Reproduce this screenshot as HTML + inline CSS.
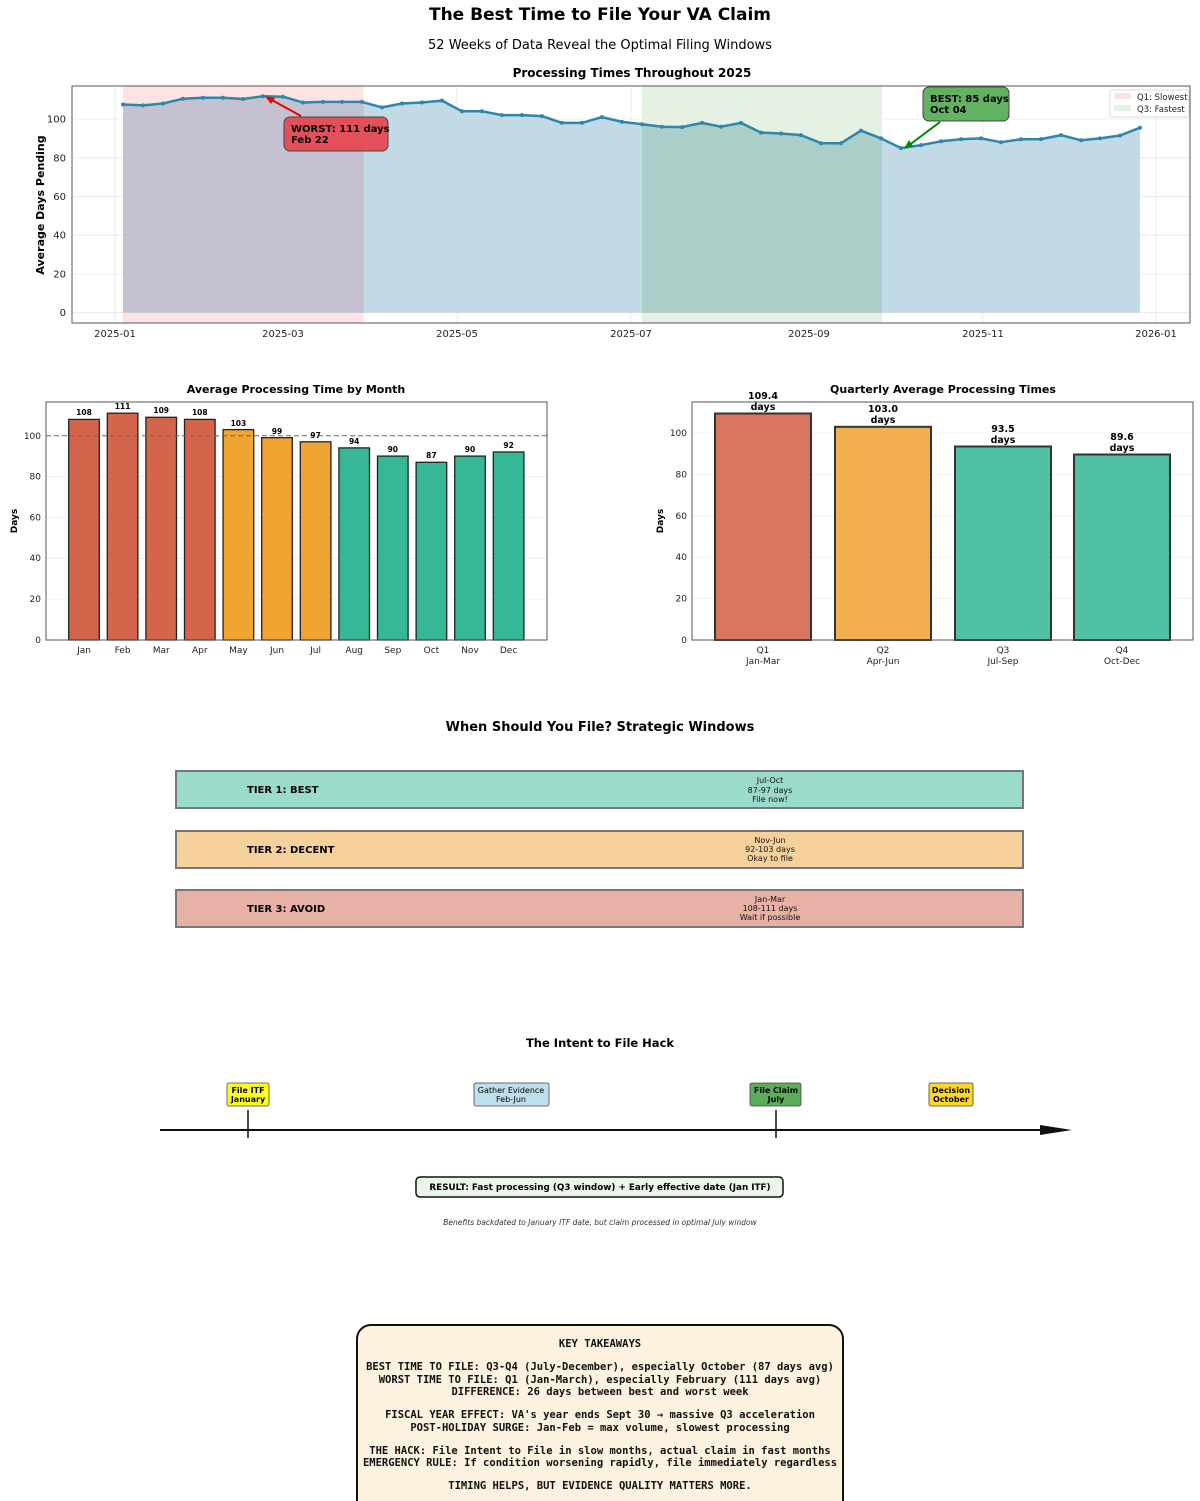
<!DOCTYPE html>
<html><head><meta charset="utf-8"><style>
html,body{margin:0;padding:0;background:#fff}
svg{display:block}
text{font-family:"DejaVu Sans","Liberation Sans",sans-serif}
.m text{font-family:"DejaVu Sans Mono","Liberation Mono",monospace;font-weight:bold;font-size:10.5px}
</style></head><body>
<svg width="1200" height="1501" viewBox="0 0 1200 1501" xmlns="http://www.w3.org/2000/svg">
<defs>
<clipPath id="cq1"><rect x="123" y="80" width="240.6" height="240"/></clipPath>
<clipPath id="cq3"><rect x="642" y="80" width="240" height="240"/></clipPath>
</defs>
<text x="600" y="20" text-anchor="middle" font-size="17" font-weight="bold">The Best Time to File Your VA Claim</text>
<text x="600" y="49" text-anchor="middle" font-size="13">52 Weeks of Data Reveal the Optimal Filing Windows</text>

<!-- TOP CHART -->
<text x="632" y="77" text-anchor="middle" font-size="12" font-weight="bold">Processing Times Throughout 2025</text>
<g stroke="#e6e6e6" stroke-width="0.8">
<line x1="72" x2="1190" y1="312.7" y2="312.7"/><line x1="72" x2="1190" y1="274" y2="274"/><line x1="72" x2="1190" y1="235.2" y2="235.2"/><line x1="72" x2="1190" y1="196.5" y2="196.5"/><line x1="72" x2="1190" y1="157.8" y2="157.8"/><line x1="72" x2="1190" y1="119" y2="119"/>
<line x1="115" x2="115" y1="86" y2="323"/><line x1="283" x2="283" y1="86" y2="323"/><line x1="457" x2="457" y1="86" y2="323"/><line x1="631" x2="631" y1="86" y2="323"/><line x1="809" x2="809" y1="86" y2="323"/><line x1="983" x2="983" y1="86" y2="323"/><line x1="1156" x2="1156" y1="86" y2="323"/>
</g>
<rect x="123" y="86" width="240.6" height="237" fill="#fde3e3"/>
<rect x="642" y="86" width="240" height="237" fill="#e5f1e3"/>
<polygon fill="#c1dae5" points="123,312.7 123,104.5 143,105.4 163,103.5 183,98.7 203,97.7 223,97.7 243,99 263,96.3 283,96.7 303,102.5 323,101.9 342,101.9 362,101.9 382,107.4 402,103.5 422,102.5 442,100.6 462,111.3 482,111.3 502,115.1 522,115.1 542,116.1 562,122.9 582,122.9 602,117.1 622,121.9 642,124.2 662,126.7 682,127.1 702,122.9 721,126.7 741,122.9 761,132.6 781,133.5 801,135.1 821,143.2 841,143.2 861,130.6 881,138.4 901,148.1 921,145.1 941,141.3 961,139.3 981,138.4 1001,142.2 1021,139.3 1041,139.1 1061,135.1 1081,140.3 1100,138.4 1120,135.5 1140,127.7 1140,312.7"/>
<polygon clip-path="url(#cq1)" fill="#c4c2d0" points="123,312.7 123,104.5 143,105.4 163,103.5 183,98.7 203,97.7 223,97.7 243,99 263,96.3 283,96.7 303,102.5 323,101.9 342,101.9 362,101.9 382,107.4 382,312.7"/>
<polygon clip-path="url(#cq3)" fill="#abcec8" points="622,312.7 622,121.9 642,124.2 662,126.7 682,127.1 702,122.9 721,126.7 741,122.9 761,132.6 781,133.5 801,135.1 821,143.2 841,143.2 861,130.6 881,138.4 901,148.1 901,312.7"/>
<polyline fill="none" stroke="#2e86ab" stroke-width="2.5" stroke-linejoin="round" points="123,104.5 143,105.4 163,103.5 183,98.7 203,97.7 223,97.7 243,99 263,96.3 283,96.7 303,102.5 323,101.9 342,101.9 362,101.9 382,107.4 402,103.5 422,102.5 442,100.6 462,111.3 482,111.3 502,115.1 522,115.1 542,116.1 562,122.9 582,122.9 602,117.1 622,121.9 642,124.2 662,126.7 682,127.1 702,122.9 721,126.7 741,122.9 761,132.6 781,133.5 801,135.1 821,143.2 841,143.2 861,130.6 881,138.4 901,148.1 921,145.1 941,141.3 961,139.3 981,138.4 1001,142.2 1021,139.3 1041,139.1 1061,135.1 1081,140.3 1100,138.4 1120,135.5 1140,127.7"/>
<g fill="#2e86ab">
<circle cx="123" cy="104.5" r="2"/><circle cx="143" cy="105.4" r="2"/><circle cx="163" cy="103.5" r="2"/><circle cx="183" cy="98.7" r="2"/><circle cx="203" cy="97.7" r="2"/><circle cx="223" cy="97.7" r="2"/><circle cx="243" cy="99" r="2"/><circle cx="263" cy="96.3" r="2"/><circle cx="283" cy="96.7" r="2"/><circle cx="303" cy="102.5" r="2"/><circle cx="323" cy="101.9" r="2"/><circle cx="342" cy="101.9" r="2"/><circle cx="362" cy="101.9" r="2"/><circle cx="382" cy="107.4" r="2"/><circle cx="402" cy="103.5" r="2"/><circle cx="422" cy="102.5" r="2"/><circle cx="442" cy="100.6" r="2"/><circle cx="462" cy="111.3" r="2"/><circle cx="482" cy="111.3" r="2"/><circle cx="502" cy="115.1" r="2"/><circle cx="522" cy="115.1" r="2"/><circle cx="542" cy="116.1" r="2"/><circle cx="562" cy="122.9" r="2"/><circle cx="582" cy="122.9" r="2"/><circle cx="602" cy="117.1" r="2"/><circle cx="622" cy="121.9" r="2"/><circle cx="642" cy="124.2" r="2"/><circle cx="662" cy="126.7" r="2"/><circle cx="682" cy="127.1" r="2"/><circle cx="702" cy="122.9" r="2"/><circle cx="721" cy="126.7" r="2"/><circle cx="741" cy="122.9" r="2"/><circle cx="761" cy="132.6" r="2"/><circle cx="781" cy="133.5" r="2"/><circle cx="801" cy="135.1" r="2"/><circle cx="821" cy="143.2" r="2"/><circle cx="841" cy="143.2" r="2"/><circle cx="861" cy="130.6" r="2"/><circle cx="881" cy="138.4" r="2"/><circle cx="901" cy="148.1" r="2"/><circle cx="921" cy="145.1" r="2"/><circle cx="941" cy="141.3" r="2"/><circle cx="961" cy="139.3" r="2"/><circle cx="981" cy="138.4" r="2"/><circle cx="1001" cy="142.2" r="2"/><circle cx="1021" cy="139.3" r="2"/><circle cx="1041" cy="139.1" r="2"/><circle cx="1061" cy="135.1" r="2"/><circle cx="1081" cy="140.3" r="2"/><circle cx="1100" cy="138.4" r="2"/><circle cx="1120" cy="135.5" r="2"/><circle cx="1140" cy="127.7" r="2"/>
</g>
<rect x="72" y="86" width="1118" height="237" fill="none" stroke="#555" stroke-width="1"/>
<g font-size="10" fill="#222" text-anchor="end">
<text x="66" y="316">0</text><text x="66" y="277.5">20</text><text x="66" y="238.7">40</text><text x="66" y="200">60</text><text x="66" y="161.3">80</text><text x="66" y="122.5">100</text>
</g>
<g font-size="10" fill="#222" text-anchor="middle">
<text x="115" y="337">2025-01</text><text x="283" y="337">2025-03</text><text x="457" y="337">2025-05</text><text x="631" y="337">2025-07</text><text x="809" y="337">2025-09</text><text x="983" y="337">2025-11</text><text x="1156" y="337">2026-01</text>
</g>
<text transform="translate(44,205) rotate(-90)" text-anchor="middle" font-size="11" font-weight="bold">Average Days Pending</text>
<line x1="301" y1="116" x2="270" y2="99" stroke="#e00" stroke-width="2"/>
<polygon points="265,96 275,98 271,104" fill="#e00"/>
<rect x="284" y="117" width="104" height="34" rx="6" fill="#e6474f" fill-opacity="0.92" stroke="#444"/>
<text x="291" y="132" font-size="10" font-weight="bold">WORST: 111 days</text>
<text x="291" y="143" font-size="10" font-weight="bold">Feb 22</text>
<line x1="940" y1="122" x2="908" y2="146" stroke="#080" stroke-width="2"/>
<polygon points="904,149 909,140 913,146" fill="#080"/>
<rect x="923" y="87" width="86" height="34" rx="6" fill="#5aae5a" fill-opacity="0.95" stroke="#444"/>
<text x="930" y="102" font-size="10" font-weight="bold">BEST: 85 days</text>
<text x="930" y="113" font-size="10" font-weight="bold">Oct 04</text>
<rect x="1110" y="90" width="79" height="27" rx="2" fill="#fff" fill-opacity="0.85" stroke="#ddd"/>
<rect x="1114" y="93" width="17" height="6" fill="#fde3e3"/>
<rect x="1114" y="105" width="17" height="6" fill="#e5f1e3"/>
<text x="1137" y="100" font-size="8.5" fill="#222">Q1: Slowest</text>
<text x="1137" y="112" font-size="8.5" fill="#222">Q3: Fastest</text>

<!-- MONTH CHART -->
<text x="296" y="393" text-anchor="middle" font-size="11" font-weight="bold">Average Processing Time by Month</text>
<g stroke="#ececec" stroke-width="0.8">
<line x1="46" x2="547" y1="599.1" y2="599.1"/><line x1="46" x2="547" y1="558.3" y2="558.3"/><line x1="46" x2="547" y1="517.4" y2="517.4"/><line x1="46" x2="547" y1="476.6" y2="476.6"/>
</g>
<g stroke="#222" stroke-width="1.3">
<rect x="68.7" y="419.4" width="30.6" height="220.6" fill="#d4654a"/>
<rect x="107.3" y="413.2" width="30.6" height="226.8" fill="#d4654a"/>
<rect x="145.9" y="417.3" width="30.6" height="222.7" fill="#d4654a"/>
<rect x="184.5" y="419.4" width="30.6" height="220.6" fill="#d4654a"/>
<rect x="223.1" y="429.6" width="30.6" height="210.4" fill="#f0a533"/>
<rect x="261.7" y="437.7" width="30.6" height="202.3" fill="#f0a533"/>
<rect x="300.3" y="441.8" width="30.6" height="198.2" fill="#f0a533"/>
<rect x="338.9" y="447.9" width="30.6" height="192.1" fill="#36b896"/>
<rect x="377.5" y="456.1" width="30.6" height="183.9" fill="#36b896"/>
<rect x="416.1" y="462.3" width="30.6" height="177.7" fill="#36b896"/>
<rect x="454.7" y="456.1" width="30.6" height="183.9" fill="#36b896"/>
<rect x="493.3" y="452" width="30.6" height="188" fill="#36b896"/>
</g>
<line x1="46" x2="547" y1="435.7" y2="435.7" stroke="#666" stroke-dasharray="5,3" stroke-width="1"/>
<rect x="46" y="402" width="501" height="238" fill="none" stroke="#555"/>
<g font-size="7.5" font-weight="bold" text-anchor="middle">
<text x="84" y="415">108</text><text x="122.6" y="409">111</text><text x="161.2" y="413">109</text><text x="199.8" y="415">108</text><text x="238.4" y="426">103</text><text x="277" y="434">99</text><text x="315.6" y="438">97</text><text x="354.2" y="444">94</text><text x="392.8" y="452">90</text><text x="431.4" y="458">87</text><text x="470" y="452">90</text><text x="508.6" y="448">92</text>
</g>
<g font-size="9" fill="#222" text-anchor="end">
<text x="41" y="643">0</text><text x="41" y="602">20</text><text x="41" y="561">40</text><text x="41" y="520.5">60</text><text x="41" y="479.5">80</text><text x="41" y="439">100</text>
</g>
<g font-size="9" fill="#222" text-anchor="middle">
<text x="84" y="653">Jan</text><text x="122.6" y="653">Feb</text><text x="161.2" y="653">Mar</text><text x="199.8" y="653">Apr</text><text x="238.4" y="653">May</text><text x="277" y="653">Jun</text><text x="315.6" y="653">Jul</text><text x="354.2" y="653">Aug</text><text x="392.8" y="653">Sep</text><text x="431.4" y="653">Oct</text><text x="470" y="653">Nov</text><text x="508.6" y="653">Dec</text>
</g>
<text transform="translate(17,521) rotate(-90)" text-anchor="middle" font-size="9" font-weight="bold">Days</text>

<!-- QUARTER CHART -->
<text x="943" y="393" text-anchor="middle" font-size="11" font-weight="bold">Quarterly Average Processing Times</text>
<g stroke="#ececec" stroke-width="0.8">
<line x1="692" x2="1193" y1="598.6" y2="598.6"/><line x1="692" x2="1193" y1="557.2" y2="557.2"/><line x1="692" x2="1193" y1="515.8" y2="515.8"/><line x1="692" x2="1193" y1="474.4" y2="474.4"/><line x1="692" x2="1193" y1="433" y2="433"/>
</g>
<g stroke="#333" stroke-width="2">
<rect x="715" y="413.5" width="96" height="226.5" fill="#d87660"/>
<rect x="835" y="426.8" width="96" height="213.2" fill="#f3ae4e"/>
<rect x="955" y="446.5" width="96" height="193.5" fill="#50c1a2"/>
<rect x="1074" y="454.5" width="96" height="185.5" fill="#50c1a2"/>
</g>
<rect x="692" y="402" width="501" height="238" fill="none" stroke="#555"/>
<g font-size="9.5" font-weight="bold" text-anchor="middle">
<text x="763" y="399">109.4</text><text x="763" y="410">days</text>
<text x="883" y="412">103.0</text><text x="883" y="423">days</text>
<text x="1003" y="432">93.5</text><text x="1003" y="443">days</text>
<text x="1122" y="440">89.6</text><text x="1122" y="451">days</text>
</g>
<g font-size="9" fill="#222" text-anchor="end">
<text x="687" y="643">0</text><text x="687" y="601.5">20</text><text x="687" y="560">40</text><text x="687" y="519">60</text><text x="687" y="477.5">80</text><text x="687" y="436">100</text>
</g>
<g font-size="9" fill="#222" text-anchor="middle">
<text x="763" y="653">Q1</text><text x="763" y="664">Jan-Mar</text>
<text x="883" y="653">Q2</text><text x="883" y="664">Apr-Jun</text>
<text x="1003" y="653">Q3</text><text x="1003" y="664">Jul-Sep</text>
<text x="1122" y="653">Q4</text><text x="1122" y="664">Oct-Dec</text>
</g>
<text transform="translate(663,521) rotate(-90)" text-anchor="middle" font-size="9" font-weight="bold">Days</text>

<!-- TIERS -->
<text x="600" y="731" text-anchor="middle" font-size="13" font-weight="bold">When Should You File? Strategic Windows</text>
<g stroke="#777" stroke-width="2">
<rect x="176" y="771" width="847" height="37" fill="#9adbcb"/>
<rect x="176" y="831" width="847" height="37" fill="#f7d19b"/>
<rect x="176" y="890" width="847" height="37" fill="#e8b1a5"/>
</g>
<g font-size="10" font-weight="bold">
<text x="247" y="793">TIER 1: BEST</text><text x="247" y="853">TIER 2: DECENT</text><text x="247" y="912">TIER 3: AVOID</text>
</g>
<g font-size="8" text-anchor="middle" fill="#111">
<text x="770" y="783">Jul-Oct</text><text x="770" y="793">87-97 days</text><text x="770" y="802">File now!</text>
<text x="770" y="843">Nov-Jun</text><text x="770" y="852">92-103 days</text><text x="770" y="861">Okay to file</text>
<text x="770" y="902">Jan-Mar</text><text x="770" y="911">108-111 days</text><text x="770" y="920">Wait if possible</text>
</g>

<!-- TIMELINE -->
<text x="600" y="1047" text-anchor="middle" font-size="11.5" font-weight="bold">The Intent to File Hack</text>
<line x1="160" x2="1045" y1="1130" y2="1130" stroke="#111" stroke-width="2"/>
<polygon points="1040,1125 1072,1130 1040,1135" fill="#111"/>
<line x1="248" x2="248" y1="1110" y2="1138" stroke="#111" stroke-width="1.5"/>
<line x1="776" x2="776" y1="1110" y2="1138" stroke="#111" stroke-width="1.5"/>
<rect x="227" y="1083" width="42" height="23" rx="2" fill="#ffff22" stroke="#444" stroke-width="0.8"/>
<rect x="474" y="1083" width="75" height="23" rx="2" fill="#bde0ec" stroke="#444" stroke-width="0.8"/>
<rect x="750" y="1083" width="51" height="23" rx="2" fill="#5aae5a" stroke="#444" stroke-width="0.8"/>
<rect x="929" y="1083" width="44" height="23" rx="2" fill="#ffd72a" stroke="#444" stroke-width="0.8"/>
<g font-size="8" text-anchor="middle">
<text x="248" y="1093" font-weight="bold">File ITF</text><text x="248" y="1102" font-weight="bold">January</text>
<text x="511" y="1093">Gather Evidence</text><text x="511" y="1102">Feb-Jun</text>
<text x="776" y="1093" font-weight="bold">File Claim</text><text x="776" y="1102" font-weight="bold">July</text>
<text x="951" y="1093" font-weight="bold">Decision</text><text x="951" y="1102" font-weight="bold">October</text>
</g>
<rect x="416" y="1177" width="367" height="20" rx="4" fill="#eaf6ea" stroke="#111" stroke-width="1.5"/>
<text x="600" y="1190" text-anchor="middle" font-size="8.8" font-weight="bold">RESULT: Fast processing (Q3 window) + Early effective date (Jan ITF)</text>
<text x="600" y="1225" text-anchor="middle" font-size="7.5" font-style="italic" fill="#333">Benefits backdated to January ITF date, but claim processed in optimal July window</text>

<!-- TAKEAWAYS -->
<rect x="357" y="1325" width="486" height="190" rx="14" fill="#fdf1e0" stroke="#111" stroke-width="2"/>
<g class="m" text-anchor="middle" fill="#111">
<text x="600" y="1347">KEY TAKEAWAYS</text>
<text x="600" y="1370">BEST TIME TO FILE: Q3-Q4 (July-December), especially October (87 days avg)</text>
<text x="600" y="1383">WORST TIME TO FILE: Q1 (Jan-March), especially February (111 days avg)</text>
<text x="600" y="1395">DIFFERENCE: 26 days between best and worst week</text>
<text x="600" y="1418">FISCAL YEAR EFFECT: VA's year ends Sept 30 → massive Q3 acceleration</text>
<text x="600" y="1431">POST-HOLIDAY SURGE: Jan-Feb = max volume, slowest processing</text>
<text x="600" y="1454">THE HACK: File Intent to File in slow months, actual claim in fast months</text>
<text x="600" y="1466">EMERGENCY RULE: If condition worsening rapidly, file immediately regardless</text>
<text x="600" y="1489">TIMING HELPS, BUT EVIDENCE QUALITY MATTERS MORE.</text>
</g>
</svg>
</body></html>
